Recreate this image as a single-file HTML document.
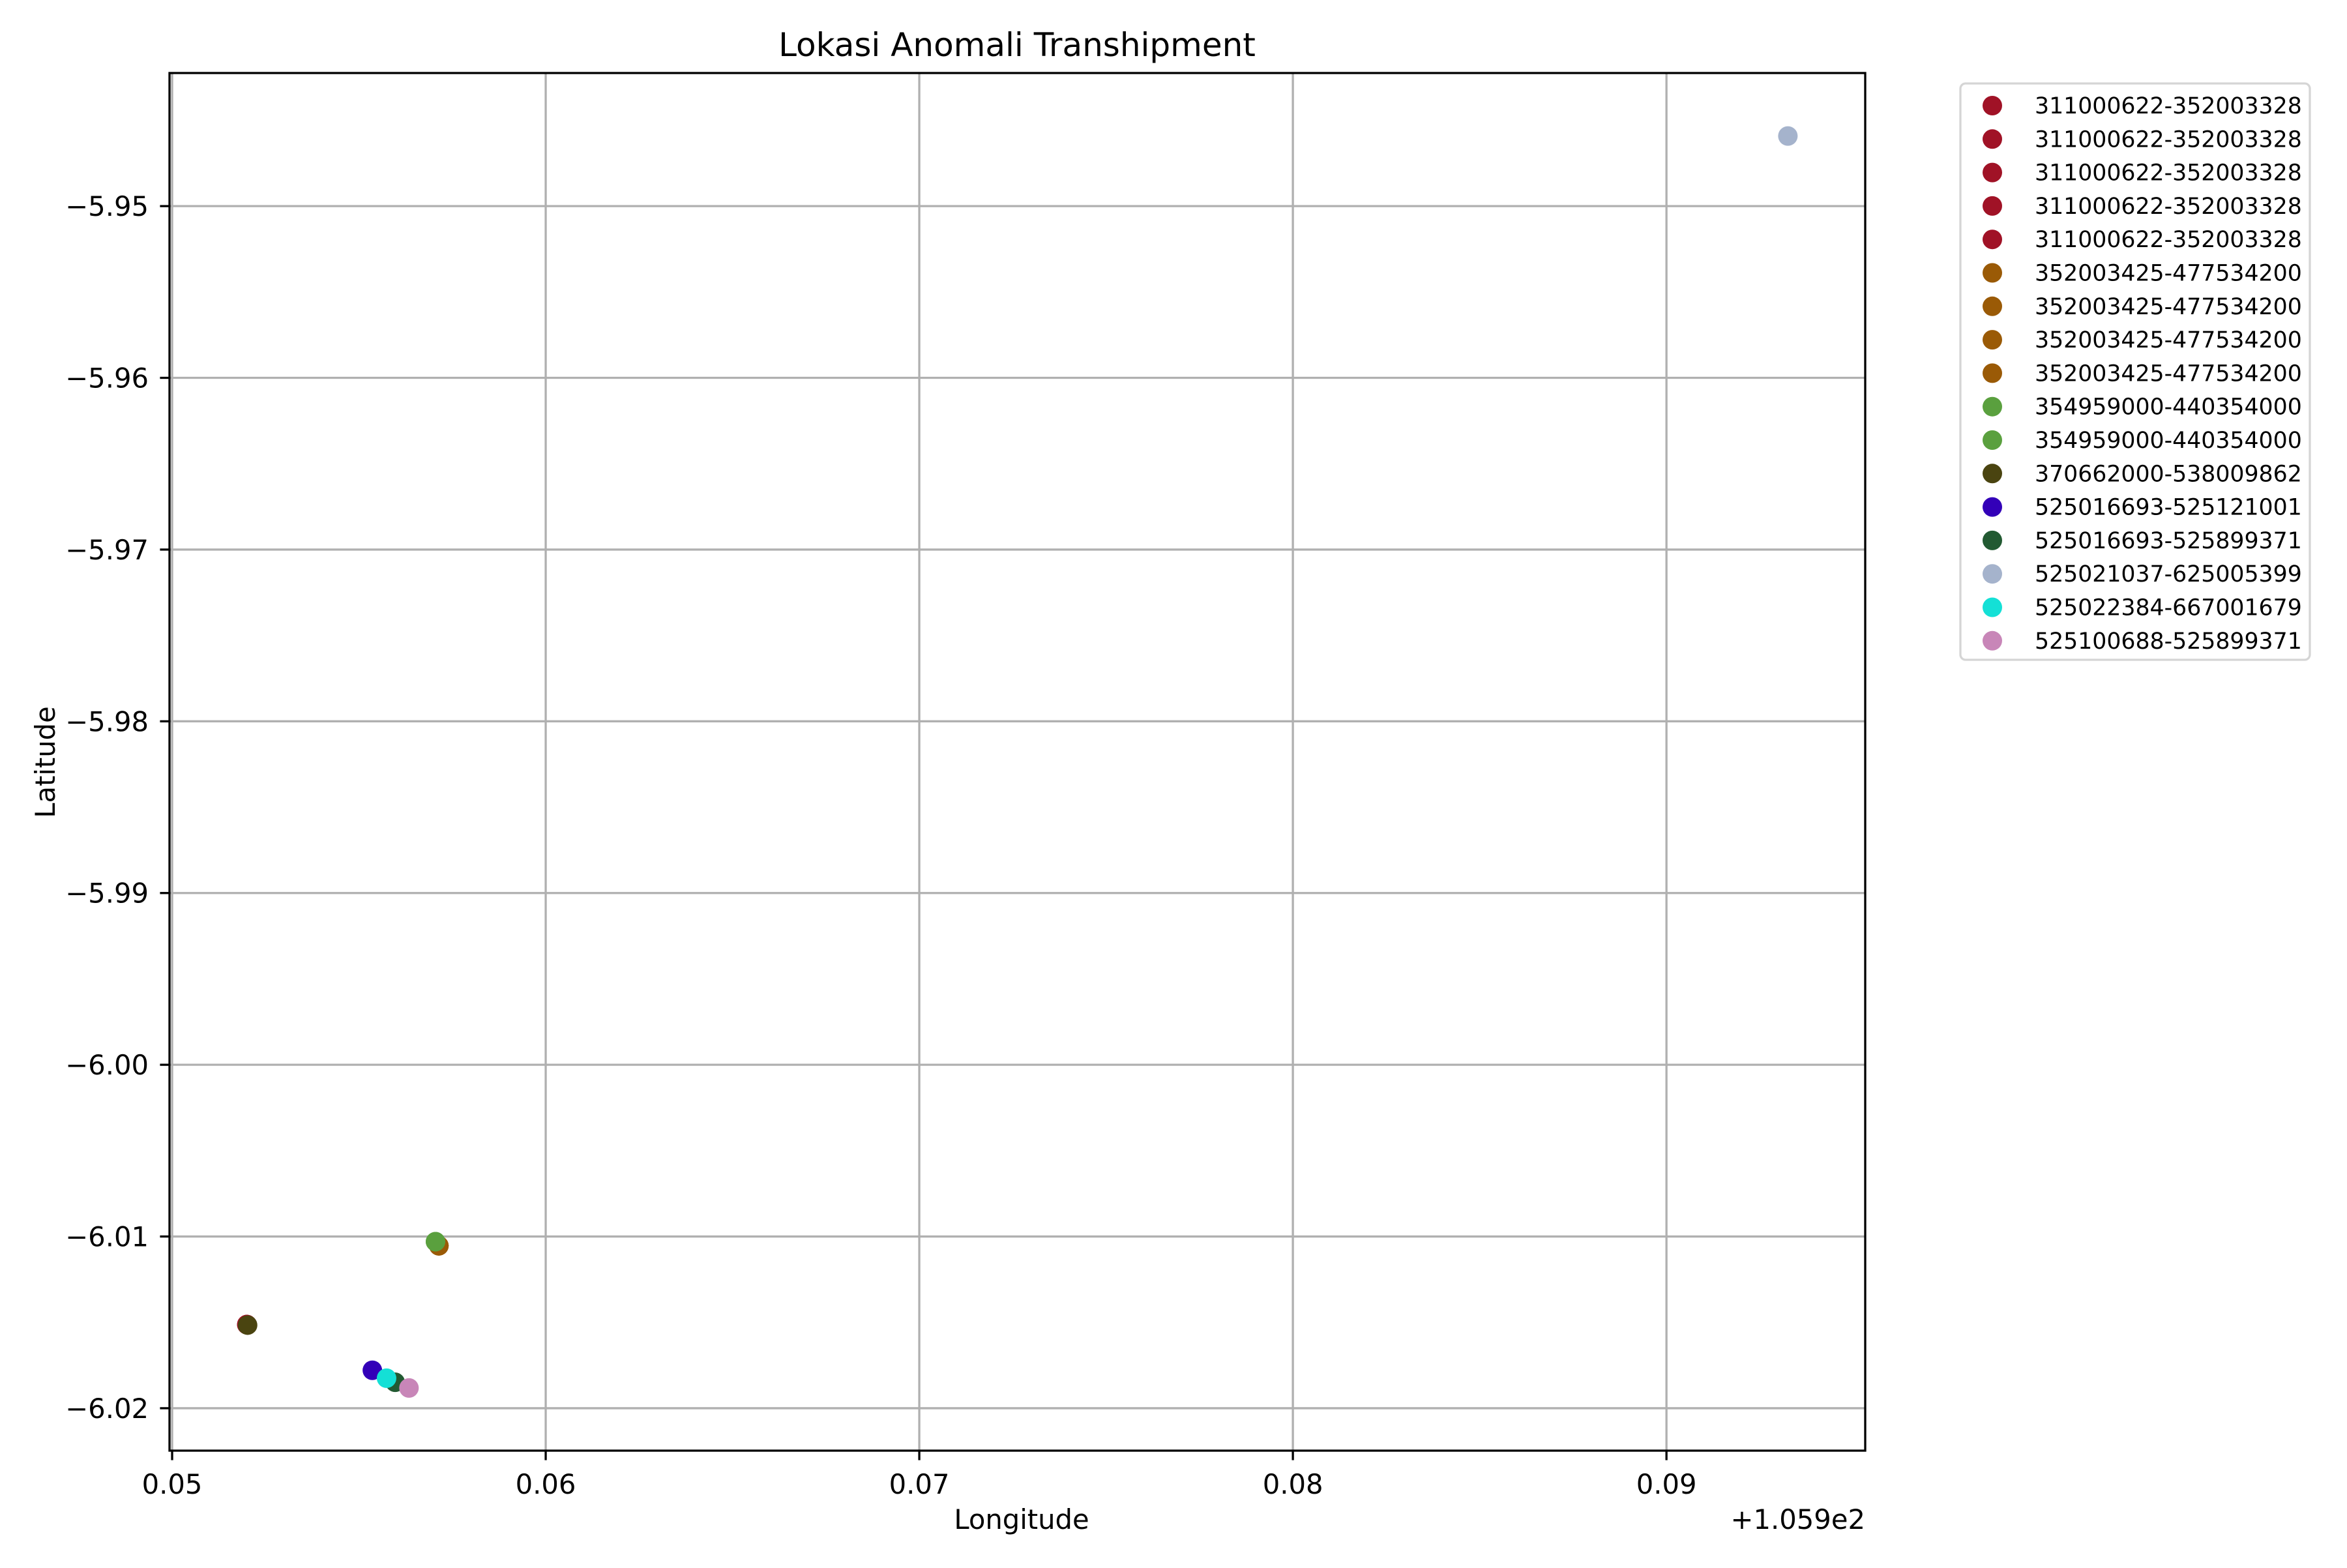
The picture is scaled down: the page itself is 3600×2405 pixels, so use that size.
<!DOCTYPE html>
<html><head><meta charset="utf-8"><style>
html,body{margin:0;padding:0;background:#fff}
svg text{font-family:"DejaVu Sans","Liberation Sans",sans-serif;fill:#000}
</style></head><body>
<svg id="chart" width="3600" height="2400" viewBox="0 0 3600 2400" xmlns="http://www.w3.org/2000/svg">
<rect width="3600" height="2400" fill="#fff"/>
<text x="1560" y="86" font-size="50" text-anchor="middle">Lokasi Anomali Transhipment</text>
<g id="grid"></g>
<g id="points"></g>
<rect x="260" y="112" width="2601" height="2113" fill="none" stroke="#000" stroke-width="3.3"/>
<g id="ticks"></g>
<text x="1567" y="2345" font-size="41.7" text-anchor="middle">Longitude</text>
<text x="2861" y="2345" font-size="41.7" text-anchor="end">+1.059e2</text>
<text transform="translate(84,1169) rotate(-90)" font-size="41.7" text-anchor="middle">Latitude</text>
<g id="legend"></g>
</svg>
<script>
const labels=["311000622-352003328","311000622-352003328","311000622-352003328","311000622-352003328","311000622-352003328","352003425-477534200","352003425-477534200","352003425-477534200","352003425-477534200","354959000-440354000","354959000-440354000","370662000-538009862","525016693-525121001","525016693-525899371","525021037-625005399","525022384-667001679","525100688-525899371"];
const colors=["#a01226","#a01226","#a01226","#a01226","#a01226","#9a5a06","#9a5a06","#9a5a06","#9a5a06","#5aa03e","#5aa03e","#4a4410","#3300b8","#225a32","#a5b3cc","#14e0d6","#c886b8"];
const lons=[0.05200,0.05200,0.05201,0.05200,0.05201,0.05714,0.05714,0.05714,0.05714,0.05705,0.05705,0.05202,0.05536,0.05597,0.09325,0.05574,0.05634];
const lats=[-6.01513,-6.01513,-6.01514,-6.01513,-6.01514,-6.01054,-6.01054,-6.01054,-6.01054,-6.01030,-6.01030,-6.01516,-6.01779,-6.01849,-5.94592,-6.01825,-6.01882];
const xTicks=[0.05,0.06,0.07,0.08,0.09];
const xTickLabels=["0.05","0.06","0.07","0.08","0.09"];
const yTicks=[-5.95,-5.96,-5.97,-5.98,-5.99,-6.00,-6.01,-6.02];
const yTickLabels=["\u22125.95","\u22125.96","\u22125.97","\u22125.98","\u22125.99","\u22126.00","\u22126.01","\u22126.02"];

const NS="http://www.w3.org/2000/svg";
const X0=260,X1=2861,Y0=112,Y1=2225;
const xMin=0.04993,xMax=0.09532,yMin=-6.02247,yMax=-5.94225;
function sx(v){return X0+(v-xMin)/(xMax-xMin)*(X1-X0);}
function sy(v){return Y1-(v-yMin)/(yMax-yMin)*(Y1-Y0);}
function mk(tag,attrs,parent){const e=document.createElementNS(NS,tag);for(const k in attrs)e.setAttribute(k,attrs[k]);parent.appendChild(e);return e;}
const grid=document.getElementById('grid'),ticks=document.getElementById('ticks'),pts=document.getElementById('points'),leg=document.getElementById('legend');
xTicks.forEach((v,i)=>{
  const x=sx(v);
  const g=mk('line',{x1:x,x2:x,y1:Y0,y2:Y1,stroke:'#b0b0b0','stroke-width':3.3},grid);
  
  
  const t=mk('line',{x1:x,x2:x,y1:Y1,y2:Y1+14.6,stroke:'#000','stroke-width':3.3},ticks);
  
  
  const l=mk('text',{x:x,y:Y1+66,'font-size':41.7,'text-anchor':'middle'},ticks);
  l.textContent=xTickLabels[i];
  
  
});
yTicks.forEach((v,i)=>{
  const y=sy(v);
  const g=mk('line',{x1:X0,x2:X1,y1:y,y2:y,stroke:'#b0b0b0','stroke-width':3.3},grid);
  
  
  const t=mk('line',{x1:X0-14.6,x2:X0,y1:y,y2:y,stroke:'#000','stroke-width':3.3},ticks);
  
  
  const l=mk('text',{x:228,y:y+15,'font-size':41.7,'text-anchor':'end'},ticks);
  l.textContent=yTickLabels[i];
  
  
});
lons.forEach((v,i)=>{
  const c=mk('circle',{cx:sx(v),cy:sy(lats[i]),r:15,fill:colors[i]},pts);
  
  
});
const box=mk('rect',{x:3007,y:128,width:536,height:884,rx:8,fill:'#fff','fill-opacity':0.8,stroke:'#d5d5d5','stroke-width':3.3},leg);


labels.forEach((lab,i)=>{
  const y=162+i*51.3;
  const c=mk('circle',{cx:3056,cy:y,r:15,fill:colors[i]},leg);
  
  
  const t=mk('text',{x:3121,y:y+12,'font-size':34.7},leg);
  t.textContent=lab;
  
  
});
</script>
</body></html>
